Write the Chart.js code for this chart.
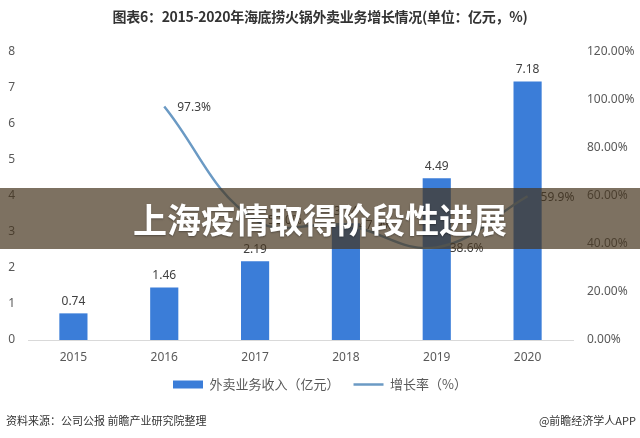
<!DOCTYPE html>
<html>
<head>
<meta charset="utf-8">
<script src="https://cdn.jsdelivr.net/npm/chart.js@4.4.0/dist/chart.umd.min.js"></script>
<style>
body { margin: 0; background: #fff; }
#marco { position: relative; width: 640px; height: 438px; overflow: hidden; font-family: "Noto Sans CJK SC", "Noto Sans", sans-serif; }
#titulo { position: absolute; top: 6px; left: 0; width: 640px; text-align: center; font-size: 14px; font-weight: bold; color: #333; letter-spacing: -0.3px; }
#grafico { position: absolute; top: 0; left: 0; }
#banda { position: absolute; top: 188px; left: 0; width: 640px; height: 61px; background: rgba(70, 52, 30, 0.7); color: #fff; font-size: 34px; font-weight: bold; text-align: center; line-height: 61px; text-shadow: 0 1px 2px rgba(0,0,0,0.35); }
#fuente { position: absolute; top: 412px; left: 6px; font-size: 11px; color: #333; }
#marca { position: absolute; top: 412px; right: 4px; font-size: 11px; color: #333; }
</style>
</head>
<body>
<div id="marco">
  <canvas id="grafico" width="640" height="438"></canvas>
  <div id="titulo">图表6：2015-2020年海底捞火锅外卖业务增长情况(单位：亿元，%)</div>
  <div id="banda">上海疫情取得阶段性进展</div>
  <div id="fuente">资料来源：公司公报 前瞻产业研究院整理</div>
  <div id="marca">@前瞻经济学人APP</div>
</div>
<script>
const anios = ["2015", "2016", "2017", "2018", "2019", "2020"];
const ingresos = [0.74, 1.46, 2.19, 3.24, 4.49, 7.18];
const crecimiento = [null, 97.3, 50.0, 47.9, 38.6, 59.9];
const nombreIngresos = "外卖业务收入（亿元）";
const nombreCrecimiento = "增长率（%）";

const colorBarra = "#3b7dd8";
const colorLinea = "#6b9ac4";
const colorTexto = "#595959";
const fuenteNum = '"Noto Sans", sans-serif';

const etiquetasPlugin = {
    id: "etiquetas",
    afterDatasetsDraw(chart) {
        const ctx = chart.ctx;
        ctx.save();
        ctx.font = "12px " + fuenteNum;
        ctx.fillStyle = "#404040";

        const barras = chart.getDatasetMeta(0);
        ctx.textAlign = "center";
        ctx.textBaseline = "bottom";
        barras.data.forEach((el, i) => {
            ctx.fillText(ingresos[i].toFixed(2), el.x, el.y - 6);
        });

        const linea = chart.getDatasetMeta(1);
        ctx.textAlign = "left";
        ctx.textBaseline = "middle";
        linea.data.forEach((el, i) => {
            if (crecimiento[i] === null) return;
            ctx.fillText(crecimiento[i].toFixed(1) + "%", el.x + 13, el.y + 1);
        });
        ctx.restore();
    }
};

const contexto = document.getElementById("grafico").getContext("2d");

new Chart(contexto, {
    type: "bar",
    data: {
        labels: anios,
        datasets: [
            {
                label: nombreIngresos,
                data: ingresos,
                backgroundColor: colorBarra,
                borderWidth: 0,
                barPercentage: 0.31,
                categoryPercentage: 1,
                yAxisID: "y",
                pointStyle: "rect",
                order: 2
            },
            {
                type: "line",
                label: nombreCrecimiento,
                data: crecimiento,
                borderColor: colorLinea,
                backgroundColor: colorLinea,
                borderWidth: 2.5,
                tension: 0.4,
                pointRadius: 0,
                pointHoverRadius: 0,
                fill: false,
                yAxisID: "y1",
                pointStyle: "line",
                order: 1
            }
        ]
    },
    options: {
        responsive: false,
        animation: false,
        layout: { padding: { top: 52, bottom: 37, left: 0, right: 0 } },
        plugins: {
            tooltip: { enabled: false },
            legend: {
                position: "bottom",
                labels: {
                    usePointStyle: true,
                    pointStyleWidth: 30,
                    boxHeight: 8,
                    padding: 14,
                    color: colorTexto,
                    font: { size: 13, family: '"Noto Sans CJK SC", sans-serif' },
                    sort: (a, b) => a.datasetIndex - b.datasetIndex
                }
            }
        },
        scales: {
            x: {
                grid: { display: false, drawTicks: false },
                border: { display: true, color: "#d9d9d9", width: 1 },
                ticks: { color: colorTexto, padding: 10, font: { size: 12, family: fuenteNum } },
                afterFit(escala) { escala.height = 24; }
            },
            y: {
                position: "left",
                min: 0,
                max: 8,
                grid: { display: false, drawTicks: false },
                border: { display: false },
                ticks: { stepSize: 1, color: colorTexto, padding: 13, font: { size: 12, family: fuenteNum } },
                afterFit(escala) { escala.width = 28; }
            },
            y1: {
                position: "right",
                min: 0,
                max: 120,
                grid: { display: false, drawTicks: false },
                border: { display: false },
                ticks: {
                    stepSize: 20,
                    color: colorTexto,
                    padding: 14,
                    font: { size: 12, family: fuenteNum },
                    callback: valor => valor.toFixed(2) + "%"
                },
                afterFit(escala) { escala.width = 67; }
            }
        }
    },
    plugins: [etiquetasPlugin]
});
</script>
</body>
</html>
